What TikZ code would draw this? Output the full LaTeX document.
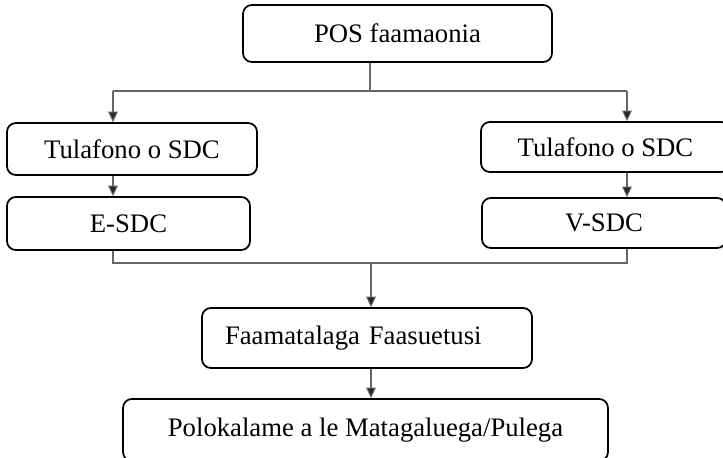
\documentclass[tikz,border=0pt]{standalone}
\usepackage{fontspec}
\setmainfont{Liberation Serif}
\usepackage{tikz}
\usetikzlibrary{arrows.meta, positioning}
\tikzset{
x=0.02cm, y=-0.02cm, % one unit is one pixel of the reference
font=\fontsize{15.2}{18}\selectfont, % text size of every label
box/.style={draw, line width=1pt, rounded corners=5pt, inner sep=0pt}, % sets the look of each box
conn/.style={draw=black!60, line width=0.6pt}, % plain connector
arr/.style={conn, -{Triangle[length=6pt, width=5.5pt, fill=black!85]}}, % connector with a head
}
\begin{document}
\begin{tikzpicture}
            \useasboundingbox (0,0) rectangle (723,457);
            \clip (0,0) rectangle (723,457);
            \node[box, minimum width=6.18cm, minimum height=1.14cm] (pos) at (397.5,33.5) {POS faamaonia};
            \node[box, minimum width=5.00cm, minimum height=1.04cm] (tl1) at (132,149) {Tulafono o SDC};
            \node[box, minimum width=4.86cm, minimum height=1.06cm] (esdc) at (128.5,223.5) {E-SDC};
            \node[box, minimum width=4.98cm, minimum height=1.00cm] (tr1) at (605.5,147) {Tulafono o SDC};
            \node[box, minimum width=4.88cm, minimum height=1.00cm] (vsdc) at (604,223) {V-SDC};
            \node[box, minimum height=1.20cm, text width=5.68cm, inner xsep=0.46cm, align=left] (faa) at (367,338) {Faamatalaga Faasuetusi};
            \node[box, minimum width=9.70cm, minimum height=1.24cm] (pol) at (365.5,430) {Polokalame a le Matagaluega/Pulega};
            % junctions of the connectors
            \coordinate (split) at (370,91);
            \coordinate (lsplit) at (113,91);
            \coordinate (rsplit) at (627,91);
            \coordinate (ljoin) at (113,263);
            \coordinate (rjoin) at (627,263);
            \coordinate (join) at (371,263);
            \draw[conn] (split |- pos.south) -- (split);
            \draw[conn] (lsplit) -- (rsplit);
            \draw[arr] (lsplit) -- (lsplit |- tl1.north);
            \draw[arr] (rsplit) -- (rsplit |- tr1.north);
            \draw[arr] (lsplit |- tl1.south) -- (lsplit |- esdc.north);
            \draw[arr] (rsplit |- tr1.south) -- (rsplit |- vsdc.north);
            \draw[conn] (ljoin |- esdc.south) -- (ljoin) -- (rjoin) -- (rjoin |- vsdc.south);
            \draw[arr] (join) -- (join |- faa.north);
            \draw[arr] (join |- faa.south) -- (join |- pol.north);
\end{tikzpicture}
\end{document}
